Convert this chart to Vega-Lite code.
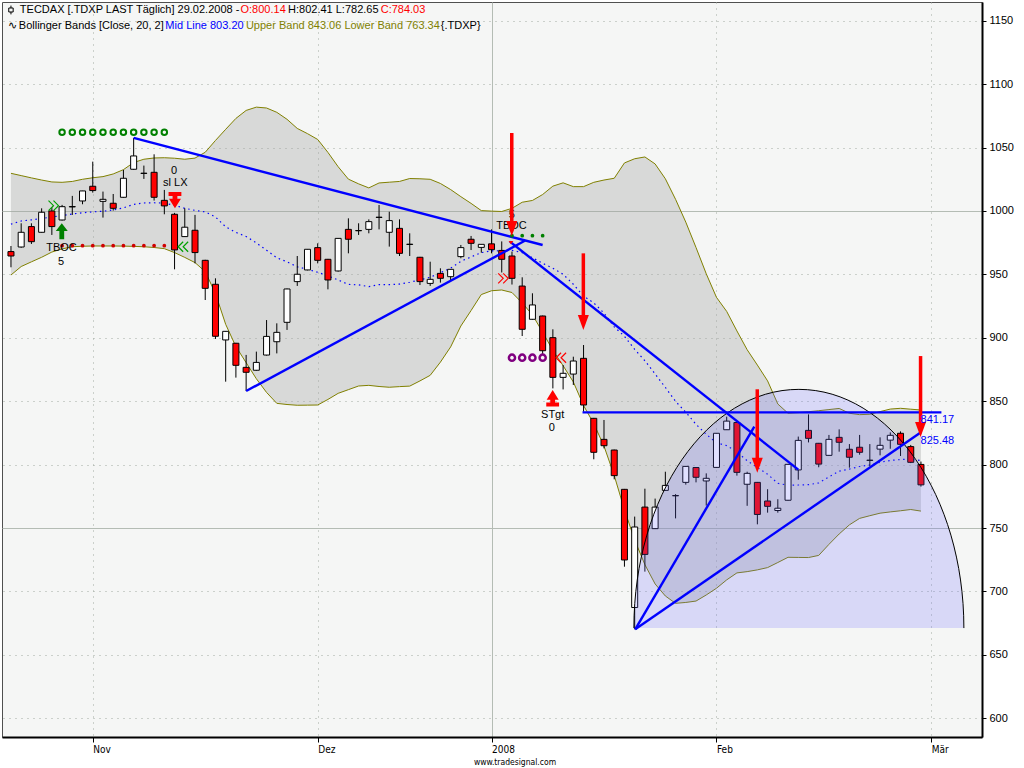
{
  "$schema": "https://vega.github.io/schema/vega-lite/v6.json",
  "width": 980,
  "height": 735,
  "autosize": {"type": "none"},
  "padding": {"left": 2, "top": 2, "right": 42, "bottom": 31},
  "background": "#ffffff",
  "config": {
    "view": {"fill": "#f5f6f5", "stroke": "#505050", "strokeWidth": 1},
    "text": {"font": "Liberation Sans", "fontSize": 11}
  },
  "datasets": {
    "px": [
      {"d":"2007-10-22","i":0,"o":968.0,"h":972.4,"l":955.6,"c":964.5},
      {"d":"2007-10-23","i":1,"o":971.6,"h":990.3,"l":971.0,"c":983.2},
      {"d":"2007-10-24","i":2,"o":987.7,"h":990.3,"l":974.0,"c":975.8},
      {"d":"2007-10-25","i":3,"o":983.2,"h":1002.1,"l":983.0,"c":999.0},
      {"d":"2007-10-26","i":4,"o":1000.0,"h":1002.9,"l":981.1,"c":987.7},
      {"d":"2007-10-29","i":5,"o":992.9,"h":1004.8,"l":992.5,"c":1003.4},
      {"d":"2007-10-30","i":6,"o":1003.2,"h":1011.9,"l":996.9,"c":1003.5},
      {"d":"2007-10-31","i":7,"o":1007.9,"h":1015.9,"l":1005.3,"c":1015.8},
      {"d":"2007-11-01","i":8,"o":1019.5,"h":1038.9,"l":1014.5,"c":1016.1},
      {"d":"2007-11-02","i":9,"o":1007.6,"h":1015.3,"l":994.8,"c":1009.2},
      {"d":"2007-11-05","i":10,"o":1006.1,"h":1013.4,"l":1000.3,"c":1002.1},
      {"d":"2007-11-06","i":11,"o":1010.8,"h":1032.4,"l":1010.5,"c":1025.8},
      {"d":"2007-11-07","i":12,"o":1032.9,"h":1057.6,"l":1032.5,"c":1043.4},
      {"d":"2007-11-08","i":13,"o":1029.6,"h":1035.8,"l":1025.3,"c":1029.8},
      {"d":"2007-11-09","i":14,"o":1030.5,"h":1044.7,"l":1008.2,"c":1010.8},
      {"d":"2007-11-12","i":15,"o":1008.4,"h":1016.6,"l":997.4,"c":1004.0},
      {"d":"2007-11-13","i":16,"o":997.4,"h":998.5,"l":954.0,"c":969.3},
      {"d":"2007-11-14","i":17,"o":979.8,"h":1002.1,"l":979.5,"c":987.2},
      {"d":"2007-11-15","i":18,"o":984.8,"h":996.9,"l":958.7,"c":967.2},
      {"d":"2007-11-16","i":19,"o":961.1,"h":961.5,"l":929.8,"c":939.0},
      {"d":"2007-11-19","i":20,"o":942.2,"h":946.9,"l":899.1,"c":901.2},
      {"d":"2007-11-20","i":21,"o":898.3,"h":905.3,"l":865.4,"c":905.1},
      {"d":"2007-11-21","i":22,"o":895.7,"h":896.0,"l":868.6,"c":878.3},
      {"d":"2007-11-22","i":23,"o":876.7,"h":886.5,"l":858.0,"c":872.8},
      {"d":"2007-11-23","i":24,"o":874.4,"h":889.1,"l":874.0,"c":880.6},
      {"d":"2007-11-26","i":25,"o":886.4,"h":914.0,"l":886.0,"c":901.1},
      {"d":"2007-11-27","i":26,"o":896.9,"h":911.4,"l":887.7,"c":904.3},
      {"d":"2007-11-28","i":27,"o":912.2,"h":938.8,"l":906.2,"c":938.5},
      {"d":"2007-11-29","i":28,"o":944.3,"h":964.5,"l":940.9,"c":950.1},
      {"d":"2007-11-30","i":29,"o":953.5,"h":970.0,"l":953.2,"c":969.8},
      {"d":"2007-12-03","i":30,"o":971.1,"h":974.5,"l":958.7,"c":961.1},
      {"d":"2007-12-04","i":31,"o":961.9,"h":962.2,"l":938.2,"c":945.6},
      {"d":"2007-12-05","i":32,"o":952.7,"h":978.6,"l":952.2,"c":978.4},
      {"d":"2007-12-06","i":33,"o":985.5,"h":994.2,"l":966.6,"c":977.7},
      {"d":"2007-12-07","i":34,"o":984.4,"h":990.3,"l":981.1,"c":984.6},
      {"d":"2007-12-10","i":35,"o":985.5,"h":993.4,"l":982.4,"c":991.6},
      {"d":"2007-12-11","i":36,"o":994.9,"h":1004.7,"l":985.5,"c":995.1},
      {"d":"2007-12-12","i":37,"o":983.2,"h":999.4,"l":971.9,"c":992.4},
      {"d":"2007-12-13","i":38,"o":986.3,"h":993.4,"l":964.5,"c":966.6},
      {"d":"2007-12-14","i":39,"o":973.6,"h":982.4,"l":964.5,"c":973.8},
      {"d":"2007-12-17","i":40,"o":963.5,"h":963.8,"l":941.6,"c":944.3},
      {"d":"2007-12-18","i":41,"o":942.9,"h":960.0,"l":940.9,"c":946.1},
      {"d":"2007-12-19","i":42,"o":950.8,"h":954.8,"l":943.5,"c":946.9},
      {"d":"2007-12-20","i":43,"o":948.2,"h":954.2,"l":945.6,"c":954.0},
      {"d":"2007-12-21","i":44,"o":964.0,"h":973.2,"l":962.7,"c":971.1},
      {"d":"2007-12-27","i":45,"o":977.7,"h":980.3,"l":969.2,"c":974.5},
      {"d":"2007-12-28","i":46,"o":971.3,"h":973.9,"l":967.1,"c":973.7},
      {"d":"2008-01-02","i":47,"o":974.1,"h":985.5,"l":966.6,"c":969.5},
      {"d":"2008-01-03","i":48,"o":968.9,"h":976.0,"l":951.5,"c":961.9},
      {"d":"2008-01-04","i":49,"o":964.5,"h":968.0,"l":942.0,"c":946.9},
      {"d":"2008-01-07","i":50,"o":940.8,"h":947.7,"l":901.4,"c":906.7},
      {"d":"2008-01-08","i":51,"o":914.6,"h":935.1,"l":914.3,"c":925.9},
      {"d":"2008-01-09","i":52,"o":917.2,"h":917.5,"l":886.4,"c":889.8},
      {"d":"2008-01-10","i":53,"o":900.1,"h":906.7,"l":860.1,"c":868.8},
      {"d":"2008-01-11","i":54,"o":868.8,"h":878.5,"l":859.3,"c":872.0},
      {"d":"2008-01-14","i":55,"o":871.4,"h":885.1,"l":862.8,"c":881.7},
      {"d":"2008-01-15","i":56,"o":883.8,"h":894.3,"l":841.7,"c":847.0},
      {"d":"2008-01-16","i":57,"o":836.5,"h":836.8,"l":804.2,"c":809.7},
      {"d":"2008-01-17","i":58,"o":819.9,"h":835.2,"l":812.8,"c":814.9},
      {"d":"2008-01-18","i":59,"o":811.5,"h":811.8,"l":788.4,"c":791.3},
      {"d":"2008-01-21","i":60,"o":780.5,"h":780.8,"l":719.5,"c":724.8},
      {"d":"2008-01-22","i":61,"o":687.3,"h":759.0,"l":670.1,"c":750.8},
      {"d":"2008-01-23","i":62,"o":766.5,"h":781.0,"l":715.6,"c":729.2},
      {"d":"2008-01-24","i":63,"o":749.5,"h":773.2,"l":749.2,"c":766.5},
      {"d":"2008-01-25","i":64,"o":779.7,"h":794.4,"l":779.5,"c":783.6},
      {"d":"2008-01-28","i":65,"o":775.4,"h":776.7,"l":757.6,"c":775.6},
      {"d":"2008-01-29","i":66,"o":786.0,"h":798.9,"l":784.2,"c":798.6},
      {"d":"2008-01-30","i":67,"o":797.7,"h":798.0,"l":786.0,"c":790.0},
      {"d":"2008-01-31","i":68,"o":787.1,"h":793.1,"l":767.7,"c":789.2},
      {"d":"2008-02-01","i":69,"o":797.8,"h":824.9,"l":797.6,"c":824.7},
      {"d":"2008-02-04","i":70,"o":827.5,"h":837.8,"l":827.3,"c":834.3},
      {"d":"2008-02-05","i":71,"o":833.2,"h":833.5,"l":791.3,"c":793.9},
      {"d":"2008-02-06","i":72,"o":784.5,"h":794.4,"l":767.5,"c":793.1},
      {"d":"2008-02-07","i":73,"o":786.0,"h":786.3,"l":752.9,"c":760.7},
      {"d":"2008-02-08","i":74,"o":771.3,"h":780.6,"l":762.1,"c":767.1},
      {"d":"2008-02-11","i":75,"o":763.8,"h":772.7,"l":762.1,"c":765.6},
      {"d":"2008-02-12","i":76,"o":771.9,"h":800.4,"l":771.7,"c":800.2},
      {"d":"2008-02-13","i":77,"o":795.8,"h":822.1,"l":788.1,"c":819.1},
      {"d":"2008-02-14","i":78,"o":827.0,"h":839.6,"l":817.5,"c":820.7},
      {"d":"2008-02-15","i":79,"o":816.8,"h":817.1,"l":797.9,"c":800.4},
      {"d":"2008-02-18","i":80,"o":807.3,"h":823.4,"l":807.1,"c":819.9},
      {"d":"2008-02-19","i":81,"o":821.5,"h":827.8,"l":810.2,"c":817.6},
      {"d":"2008-02-20","i":82,"o":812.1,"h":816.2,"l":797.6,"c":805.8},
      {"d":"2008-02-21","i":83,"o":813.7,"h":823.4,"l":807.8,"c":809.7},
      {"d":"2008-02-22","i":84,"o":803.3,"h":816.2,"l":798.6,"c":803.5},
      {"d":"2008-02-25","i":85,"o":812.2,"h":821.5,"l":807.3,"c":815.2},
      {"d":"2008-02-26","i":86,"o":819.3,"h":825.4,"l":812.5,"c":823.1},
      {"d":"2008-02-27","i":87,"o":824.7,"h":826.2,"l":806.8,"c":816.0},
      {"d":"2008-02-28","i":88,"o":814.2,"h":815.5,"l":801.2,"c":801.8},
      {"d":"2008-02-29","i":89,"o":800.14,"h":802.41,"l":782.65,"c":784.03}
    ],
    "bb": [
      {"i":0,"up":1029.7,"lo":949.5,"mid":989.6},{"i":1,"up":1027.9,"lo":956.2,"mid":992.1},
      {"i":2,"up":1026.1,"lo":959.9,"mid":993.0},{"i":3,"up":1024.4,"lo":963.5,"mid":994.0},
      {"i":4,"up":1022.9,"lo":967.6,"mid":995.3},{"i":5,"up":1022.6,"lo":970.1,"mid":996.4},
      {"i":6,"up":1023.3,"lo":971.8,"mid":997.6},{"i":7,"up":1025.0,"lo":972.2,"mid":998.6},
      {"i":8,"up":1026.2,"lo":972.4,"mid":999.3},{"i":9,"up":1027.1,"lo":972.4,"mid":999.8},
      {"i":10,"up":1029.2,"lo":972.4,"mid":1000.8},{"i":11,"up":1032.6,"lo":972.3,"mid":1002.5},
      {"i":12,"up":1038.2,"lo":972.1,"mid":1005.2},{"i":13,"up":1040.8,"lo":971.8,"mid":1006.3},
      {"i":14,"up":1041.8,"lo":971.2,"mid":1006.5},{"i":15,"up":1042.0,"lo":970.3,"mid":1006.2},
      {"i":16,"up":1041.6,"lo":967.2,"mid":1004.4},{"i":17,"up":1040.8,"lo":963.4,"mid":1002.1},
      {"i":18,"up":1041.7,"lo":959.3,"mid":1000.5},{"i":19,"up":1046.3,"lo":952.2,"mid":999.3},
      {"i":20,"up":1055.6,"lo":934.9,"mid":995.3},{"i":21,"up":1064.4,"lo":910.6,"mid":987.5},
      {"i":22,"up":1073.0,"lo":893.1,"mid":983.1},{"i":23,"up":1079.3,"lo":880.4,"mid":979.9},
      {"i":24,"up":1081.9,"lo":867.7,"mid":974.8},{"i":25,"up":1081.2,"lo":856.9,"mid":969.1},
      {"i":26,"up":1077.8,"lo":848.3,"mid":963.1},{"i":27,"up":1072.3,"lo":847.4,"mid":959.9},
      {"i":28,"up":1065.1,"lo":846.8,"mid":956.0},{"i":29,"up":1061.0,"lo":846.9,"mid":954.0},
      {"i":30,"up":1056.4,"lo":847.0,"mid":951.7},{"i":31,"up":1046.2,"lo":851.4,"mid":948.8},
      {"i":32,"up":1034.9,"lo":856.2,"mid":945.6},{"i":33,"up":1025.1,"lo":859.1,"mid":942.1},
      {"i":34,"up":1021.4,"lo":862.0,"mid":941.7},{"i":35,"up":1018.2,"lo":862.5,"mid":940.4},
      {"i":36,"up":1022.1,"lo":861.6,"mid":941.9},{"i":37,"up":1022.7,"lo":861.0,"mid":941.9},
      {"i":38,"up":1023.3,"lo":861.5,"mid":942.4},{"i":39,"up":1025.6,"lo":861.9,"mid":943.8},
      {"i":40,"up":1025.4,"lo":866.0,"mid":945.7},{"i":41,"up":1025.0,"lo":870.4,"mid":947.7},
      {"i":42,"up":1021.7,"lo":880.8,"mid":951.3},{"i":43,"up":1016.9,"lo":892.8,"mid":954.9},
      {"i":44,"up":1011.3,"lo":909.3,"mid":960.3},{"i":45,"up":1006.0,"lo":921.5,"mid":963.8},
      {"i":46,"up":1000.3,"lo":934.1,"mid":967.2},{"i":47,"up":999.9,"lo":937.1,"mid":968.5},
      {"i":48,"up":999.6,"lo":937.7,"mid":968.7},{"i":49,"up":1002.1,"lo":935.7,"mid":968.9},
      {"i":50,"up":1006.9,"lo":927.5,"mid":967.2},{"i":51,"up":1008.3,"lo":918.1,"mid":963.2},
      {"i":52,"up":1013.0,"lo":904.4,"mid":958.7},{"i":53,"up":1019.6,"lo":890.1,"mid":954.9},
      {"i":54,"up":1022.2,"lo":878.0,"mid":950.1},{"i":55,"up":1019.2,"lo":865.2,"mid":942.2},
      {"i":56,"up":1019.2,"lo":846.6,"mid":932.9},{"i":57,"up":1022.6,"lo":832.3,"mid":927.5},
      {"i":58,"up":1024.4,"lo":814.6,"mid":919.5},{"i":59,"up":1025.8,"lo":791.4,"mid":908.6},
      {"i":60,"up":1037.9,"lo":764.4,"mid":901.2},{"i":61,"up":1041.2,"lo":740.5,"mid":890.9},
      {"i":62,"up":1042.6,"lo":721.1,"mid":881.9},{"i":63,"up":1037.1,"lo":705.9,"mid":871.5},
      {"i":64,"up":1025.4,"lo":696.4,"mid":860.9},{"i":65,"up":1009.2,"lo":690.6,"mid":849.9},
      {"i":66,"up":991.2,"lo":691.3,"mid":841.3},{"i":67,"up":971.2,"lo":692.4,"mid":831.8},
      {"i":68,"up":950.5,"lo":697.2,"mid":823.9},{"i":69,"up":931.9,"lo":702.5,"mid":817.2},
      {"i":70,"up":920.8,"lo":709.1,"mid":815.0},{"i":71,"up":905.4,"lo":714.6,"mid":810.0},
      {"i":72,"up":890.6,"lo":715.6,"mid":803.1},{"i":73,"up":878.5,"lo":717.0,"mid":797.8},
      {"i":74,"up":866.0,"lo":718.8,"mid":792.4},{"i":75,"up":847.8,"lo":722.8,"mid":785.3},
      {"i":76,"up":840.5,"lo":726.9,"mid":783.7},{"i":77,"up":841.0,"lo":726.8,"mid":783.9},
      {"i":78,"up":841.7,"lo":726.7,"mid":784.2},{"i":79,"up":842.5,"lo":728.4,"mid":785.5},
      {"i":80,"up":843.4,"lo":737.1,"mid":790.3},{"i":81,"up":844.3,"lo":745.3,"mid":794.8},
      {"i":82,"up":840.5,"lo":752.5,"mid":796.5},{"i":83,"up":839.4,"lo":757.6,"mid":798.5},
      {"i":84,"up":839.7,"lo":759.7,"mid":799.7},{"i":85,"up":841.8,"lo":761.7,"mid":801.8},
      {"i":86,"up":843.8,"lo":762.7,"mid":803.3},{"i":87,"up":844.4,"lo":763.6,"mid":804.0},
      {"i":88,"up":843.7,"lo":764.6,"mid":804.2},{"i":89,"up":843.06,"lo":763.34,"mid":803.20}
    ],
    "trend": [
      {"i1":12.0,"v1":1057.6,"i2":52.0,"v2":973.2},
      {"i1":23.0,"v1":858.0,"i2":50.3,"v2":976.7},
      {"i1":48.8,"v1":975.8,"i2":77.0,"v2":796.0},
      {"i1":55.9,"v1":841.17,"i2":91.0,"v2":841.17},
      {"i1":61.05,"v1":670.1,"i2":72.7,"v2":829.9},
      {"i1":61.05,"v1":670.1,"i2":89.0,"v2":825.48}
    ],
    "sig": [
      {"i":48.98,"top":1061.5,"neck":986.6,"tip":980.3},
      {"i":55.98,"top":966.6,"neck":912.5,"tip":906.2},
      {"i":72.99,"top":859.4,"neck":799.9,"tip":793.6},
      {"i":88.96,"top":885.6,"neck":828.1,"tip":821.8}
    ],
    "marks": [
      {"kind":"ring_g","i":5,"v":1062.1},{"kind":"ring_g","i":6,"v":1062.1},{"kind":"ring_g","i":7,"v":1062.1},
      {"kind":"ring_g","i":8,"v":1062.1},{"kind":"ring_g","i":9,"v":1062.1},{"kind":"ring_g","i":10,"v":1062.1},
      {"kind":"ring_g","i":11,"v":1062.1},{"kind":"ring_g","i":12,"v":1062.1},{"kind":"ring_g","i":13,"v":1062.1},
      {"kind":"ring_g","i":14,"v":1062.1},{"kind":"ring_g","i":15,"v":1062.1},
      {"kind":"dot_r","i":5,"v":972.6},{"kind":"dot_r","i":6,"v":972.6},{"kind":"dot_r","i":7,"v":972.6},
      {"kind":"dot_r","i":8,"v":972.6},{"kind":"dot_r","i":9,"v":972.6},{"kind":"dot_r","i":10,"v":972.6},
      {"kind":"dot_r","i":11,"v":972.6},{"kind":"dot_r","i":12,"v":972.6},{"kind":"dot_r","i":13,"v":972.6},
      {"kind":"dot_r","i":14,"v":972.6},{"kind":"dot_r","i":15,"v":972.6},
      {"kind":"dot_g","i":49,"v":980.5},{"kind":"dot_g","i":50,"v":980.5},{"kind":"dot_g","i":51,"v":980.5},{"kind":"dot_g","i":52,"v":980.5},
      {"kind":"ring_p","i":49,"v":884.3},{"kind":"ring_p","i":50,"v":884.3},{"kind":"ring_p","i":51,"v":884.3},{"kind":"ring_p","i":52,"v":884.3},
      {"kind":"fwd_g","i":4.16,"v":1004.2},
      {"kind":"back_g","i":16.84,"v":971.8},
      {"kind":"fwd_r","i":48.14,"v":946.9},
      {"kind":"back_r","i":53.8,"v":884.3},
      {"kind":"buy","i":4.97,"v":990.3},
      {"kind":"exit","i":16.04,"v":1002.1},
      {"kind":"target","i":52.98,"v":858.8},
      {"kind":"sell","i":48.9,"v":973.8},
      {"kind":"icon","i":0.0,"v":1158.5}
    ],
    "notes": [
      {"i":4.94,"v":970.8,"t":"TBOC"},{"i":4.91,"v":960.0,"t":"5"},
      {"i":15.94,"v":1031.8,"t":"0"},{"i":16.07,"v":1021.8,"t":"sl LX"},
      {"i":48.98,"v":997.2,"t":"5"},{"i":48.95,"v":988.2,"t":"TBOC"},
      {"i":52.98,"v":839.1,"t":"STgt"},{"i":52.89,"v":828.6,"t":"0"}
    ],
    "tags": [
      {"i":88.96,"v":835.2,"t":"841.17"},
      {"i":88.96,"v":818.8,"t":"825.48"}
    ],
    "head": [
      {"i":0.87,"v":1158.5,"t":"TECDAX [.TDXP LAST Täglich] 29.02.2008 -","tone":"plain"},
      {"i":22.45,"v":1158.5,"t":"O:800.14","tone":"price"},
      {"i":27.10,"v":1158.5,"t":"H:802.41 L:782.65","tone":"plain"},
      {"i":36.16,"v":1158.5,"t":"C:784.03","tone":"price"},
      {"i":-0.29,"v":1145.9,"t":"∿","tone":"plain"},
      {"i":0.77,"v":1145.9,"t":"Bollinger Bands [Close, 20, 2]","tone":"plain"},
      {"i":15.10,"v":1145.9,"t":"Mid Line 803.20","tone":"mid"},
      {"i":22.98,"v":1145.9,"t":"Upper Band 843.06 Lower Band 763.34","tone":"band"},
      {"i":42.04,"v":1145.9,"t":"{.TDXP}","tone":"plain"}
    ],
    "arc": [{"i":77.06,"v":671.1}],
    "site": [{"i":49.3,"v":565.5,"t":"www.tradesignal.com"}]
  },
  "layer": [
    {
      "data": {"name": "bb"},
      "mark": {"type": "area", "color": "#a0a0a0", "opacity": 0.34, "interpolate": "linear"},
      "encoding": {
        "x": {"field": "i", "type": "quantitative", "scale": {"domain": [-0.387, 94.48], "nice": false, "zero": false},
          "axis": {"orient": "bottom", "title": null, "values": [8, 30, 47, 69, 90],
            "labelExpr": "datum.value == 8 ? 'Nov' : datum.value == 30 ? 'Dez' : datum.value == 47 ? '2008' : datum.value == 69 ? 'Feb' : 'Mär'",
            "labelAlign": "left", "labelBaseline": "top", "labelPadding": 2, "labelOffset": 0,
            "labelFont": "DejaVu Sans Condensed", "labelFontSize": 10, "labelColor": "#000000",
            "labelOverlap": false, "labelFlush": false,
            "tickSize": 5, "tickColor": "#000000", "tickWidth": 1,
            "domainColor": "#000000", "domainWidth": 2,
            "grid": true, "gridWidth": 1,
            "gridColor": {"condition": {"test": "datum.value == 47", "value": "#b4bcb4"}, "value": "#a0aaa0"},
            "gridDash": {"condition": {"test": "datum.value == 47", "value": []}, "value": [1, 5]}}},
        "y": {"field": "lo", "type": "quantitative", "scale": {"domain": [585.2, 1164.8], "nice": false, "zero": false},
          "axis": {"orient": "right", "title": null, "values": [600, 650, 700, 750, 800, 850, 900, 950, 1000, 1050, 1100, 1150],
            "format": "d", "labelAlign": "left", "labelBaseline": "middle", "labelPadding": 3,
            "labelFont": "Liberation Sans", "labelFontSize": 11, "labelColor": "#000000",
            "labelOverlap": false, "labelFlush": false,
            "tickSize": 4, "tickColor": "#000000", "tickWidth": 1,
            "domainColor": "#000000", "domainWidth": 2,
            "grid": true, "gridWidth": 1,
            "gridColor": {"condition": {"test": "datum.value == 1000 || datum.value == 750", "value": "#b4bcb4"}, "value": "#a0aaa0"},
            "gridDash": {"condition": {"test": "datum.value == 1000 || datum.value == 750", "value": []}, "value": [1, 5]}}},
        "y2": {"field": "up"}
      }
    },
    {
      "data": {"name": "bb"},
      "mark": {"type": "line", "color": "#808000", "strokeWidth": 1},
      "encoding": {
        "x": {"field": "i", "type": "quantitative"},
        "y": {"field": "up", "type": "quantitative"}
      }
    },
    {
      "data": {"name": "bb"},
      "mark": {"type": "line", "color": "#808000", "strokeWidth": 1},
      "encoding": {
        "x": {"field": "i", "type": "quantitative"},
        "y": {"field": "lo", "type": "quantitative"}
      }
    },
    {
      "data": {"name": "bb"},
      "mark": {"type": "line", "color": "#0000ff", "strokeWidth": 1.2, "strokeDash": [1.5, 3.5]},
      "encoding": {
        "x": {"field": "i", "type": "quantitative"},
        "y": {"field": "mid", "type": "quantitative"}
      }
    },
    {
      "data": {"name": "px"},
      "mark": {"type": "rule", "color": "#000000", "strokeWidth": 1},
      "encoding": {
        "x": {"field": "i", "type": "quantitative"},
        "y": {"field": "l", "type": "quantitative"},
        "y2": {"field": "h"}
      }
    },
    {
      "data": {"name": "px"},
      "mark": {"type": "bar", "width": 6, "stroke": "#000000", "strokeWidth": 1, "opacity": 1},
      "encoding": {
        "x": {"field": "i", "type": "quantitative"},
        "y": {"field": "o", "type": "quantitative"},
        "y2": {"field": "c"},
        "fill": {"condition": {"test": "datum.c < datum.o", "value": "#ff0000"}, "value": "#ffffff"}
      }
    },
    {
      "data": {"name": "arc"},
      "mark": {"type": "point", "shape": "M -1 0 A 1 1.4467 0 0 1 1 0", "size": 108900, "filled": true,
        "fill": "#6464ff", "fillOpacity": 0.2, "stroke": "#000000", "strokeWidth": 1, "strokeOpacity": 1, "opacity": 1},
      "encoding": {
        "x": {"field": "i", "type": "quantitative"},
        "y": {"field": "v", "type": "quantitative"}
      }
    },
    {
      "data": {"name": "trend"},
      "mark": {"type": "rule", "color": "#0000ff", "strokeWidth": 2.4},
      "encoding": {
        "x": {"field": "i1", "type": "quantitative"},
        "x2": {"field": "i2"},
        "y": {"field": "v1", "type": "quantitative"},
        "y2": {"field": "v2"}
      }
    },
    {
      "data": {"name": "marks"},
      "transform": [{"filter": "datum.kind == 'ring_g'"}],
      "mark": {"type": "point", "shape": "circle", "size": 30, "filled": false, "stroke": "#008000", "strokeWidth": 2, "opacity": 1},
      "encoding": {
        "x": {"field": "i", "type": "quantitative"},
        "y": {"field": "v", "type": "quantitative"}
      }
    },
    {
      "data": {"name": "marks"},
      "transform": [{"filter": "datum.kind == 'ring_p'"}],
      "mark": {"type": "point", "shape": "circle", "size": 38, "filled": false, "stroke": "#800080", "strokeWidth": 2.5, "opacity": 1},
      "encoding": {
        "x": {"field": "i", "type": "quantitative"},
        "y": {"field": "v", "type": "quantitative"}
      }
    },
    {
      "data": {"name": "marks"},
      "transform": [{"filter": "datum.kind == 'dot_r'"}],
      "mark": {"type": "point", "shape": "circle", "size": 14, "filled": true, "fill": "#d00000", "opacity": 1},
      "encoding": {
        "x": {"field": "i", "type": "quantitative"},
        "y": {"field": "v", "type": "quantitative"}
      }
    },
    {
      "data": {"name": "marks"},
      "transform": [{"filter": "datum.kind == 'dot_g'"}],
      "mark": {"type": "point", "shape": "circle", "size": 14, "filled": true, "fill": "#008000", "opacity": 1},
      "encoding": {
        "x": {"field": "i", "type": "quantitative"},
        "y": {"field": "v", "type": "quantitative"}
      }
    },
    {
      "data": {"name": "marks"},
      "transform": [{"filter": "datum.kind == 'fwd_g'"}],
      "mark": {"type": "point", "shape": "M -1 -1 L 0 0 L -1 1 M 0 -1 L 1 0 L 0 1", "size": 100, "filled": false, "stroke": "#00a000", "strokeWidth": 1.2, "opacity": 1},
      "encoding": {
        "x": {"field": "i", "type": "quantitative"},
        "y": {"field": "v", "type": "quantitative"}
      }
    },
    {
      "data": {"name": "marks"},
      "transform": [{"filter": "datum.kind == 'back_g'"}],
      "mark": {"type": "point", "shape": "M 1 -1 L 0 0 L 1 1 M 0 -1 L -1 0 L 0 1", "size": 100, "filled": false, "stroke": "#00a000", "strokeWidth": 1.2, "opacity": 1},
      "encoding": {
        "x": {"field": "i", "type": "quantitative"},
        "y": {"field": "v", "type": "quantitative"}
      }
    },
    {
      "data": {"name": "marks"},
      "transform": [{"filter": "datum.kind == 'fwd_r'"}],
      "mark": {"type": "point", "shape": "M -1 -1 L 0 0 L -1 1 M 0 -1 L 1 0 L 0 1", "size": 100, "filled": false, "stroke": "#ff0000", "strokeWidth": 1.2, "opacity": 1},
      "encoding": {
        "x": {"field": "i", "type": "quantitative"},
        "y": {"field": "v", "type": "quantitative"}
      }
    },
    {
      "data": {"name": "marks"},
      "transform": [{"filter": "datum.kind == 'back_r'"}],
      "mark": {"type": "point", "shape": "M 1 -1 L 0 0 L 1 1 M 0 -1 L -1 0 L 0 1", "size": 100, "filled": false, "stroke": "#ff0000", "strokeWidth": 1.2, "opacity": 1},
      "encoding": {
        "x": {"field": "i", "type": "quantitative"},
        "y": {"field": "v", "type": "quantitative"}
      }
    },
    {
      "data": {"name": "marks"},
      "transform": [{"filter": "datum.kind == 'icon'"}],
      "mark": {"type": "point", "shape": "M 0 -1.1 L 0 -0.5 M -0.55 -0.5 L 0.55 -0.5 L 0.55 0.5 L -0.55 0.5 Z M 0 0.5 L 0 1.1", "size": 64, "filled": false, "stroke": "#000000", "strokeWidth": 1, "opacity": 1},
      "encoding": {
        "x": {"field": "i", "type": "quantitative"},
        "y": {"field": "v", "type": "quantitative"}
      }
    },
    {
      "data": {"name": "notes"},
      "mark": {"type": "text", "align": "center", "baseline": "middle", "color": "#000000", "fontSize": 11},
      "encoding": {
        "x": {"field": "i", "type": "quantitative"},
        "y": {"field": "v", "type": "quantitative"},
        "text": {"field": "t"}
      }
    },
    {
      "data": {"name": "marks"},
      "transform": [{"filter": "datum.kind == 'buy'"}],
      "mark": {"type": "point", "shape": "M 0 0 L 0.75 0.95 L 0.3 0.95 L 0.3 2 L -0.3 2 L -0.3 0.95 L -0.75 0.95 Z", "size": 256, "filled": true, "fill": "#008000", "opacity": 1},
      "encoding": {
        "x": {"field": "i", "type": "quantitative"},
        "y": {"field": "v", "type": "quantitative"}
      }
    },
    {
      "data": {"name": "marks"},
      "transform": [{"filter": "datum.kind == 'exit'"}],
      "mark": {"type": "point", "shape": "M 0 0 L -0.75 -1.2 L -0.3 -1.2 L -0.3 -1.55 L -0.8 -1.55 L -0.8 -2.05 L 0.8 -2.05 L 0.8 -1.55 L 0.3 -1.55 L 0.3 -1.2 L 0.75 -1.2 Z", "size": 256, "filled": true, "fill": "#ff0000", "opacity": 1},
      "encoding": {
        "x": {"field": "i", "type": "quantitative"},
        "y": {"field": "v", "type": "quantitative"}
      }
    },
    {
      "data": {"name": "marks"},
      "transform": [{"filter": "datum.kind == 'target'"}],
      "mark": {"type": "point", "shape": "M 0 0 L 0.75 1.2 L 0.3 1.2 L 0.3 1.55 L 0.8 1.55 L 0.8 2.05 L -0.8 2.05 L -0.8 1.55 L -0.3 1.55 L -0.3 1.2 L -0.75 1.2 Z", "size": 256, "filled": true, "fill": "#ff0000", "opacity": 1},
      "encoding": {
        "x": {"field": "i", "type": "quantitative"},
        "y": {"field": "v", "type": "quantitative"}
      }
    },
    {
      "data": {"name": "marks"},
      "transform": [{"filter": "datum.kind == 'sell'"}],
      "mark": {"type": "point", "shape": "M -0.6 -0.8 L 0.6 -0.8 L 0 0 Z", "size": 64, "filled": true, "fill": "#ff0000", "opacity": 1},
      "encoding": {
        "x": {"field": "i", "type": "quantitative"},
        "y": {"field": "v", "type": "quantitative"}
      }
    },
    {
      "data": {"name": "sig"},
      "mark": {"type": "rule", "color": "#ff0000", "strokeWidth": 3.5, "strokeCap": "butt"},
      "encoding": {
        "x": {"field": "i", "type": "quantitative"},
        "y": {"field": "top", "type": "quantitative"},
        "y2": {"field": "neck"}
      }
    },
    {
      "data": {"name": "sig"},
      "mark": {"type": "point", "shape": "M -0.55 -1.5 L 0.55 -1.5 L 0 0 Z", "size": 400, "filled": true, "fill": "#ff0000", "opacity": 1},
      "encoding": {
        "x": {"field": "i", "type": "quantitative"},
        "y": {"field": "tip", "type": "quantitative"}
      }
    },
    {
      "data": {"name": "tags"},
      "mark": {"type": "text", "align": "left", "baseline": "middle", "color": "#0000ff", "fontSize": 11},
      "encoding": {
        "x": {"field": "i", "type": "quantitative"},
        "y": {"field": "v", "type": "quantitative"},
        "text": {"field": "t"}
      }
    },
    {
      "data": {"name": "head"},
      "mark": {"type": "text", "align": "left", "baseline": "middle", "fontSize": 11},
      "encoding": {
        "x": {"field": "i", "type": "quantitative"},
        "y": {"field": "v", "type": "quantitative"},
        "text": {"field": "t"},
        "color": {"field": "tone", "type": "nominal", "legend": null,
          "scale": {"domain": ["plain", "price", "mid", "band"], "range": ["#000000", "#ff0000", "#0000ff", "#808000"]}}
      }
    },
    {
      "data": {"name": "site"},
      "mark": {"type": "text", "align": "center", "baseline": "middle", "color": "#000000", "font": "DejaVu Sans Condensed", "fontSize": 8.5},
      "encoding": {
        "x": {"field": "i", "type": "quantitative"},
        "y": {"field": "v", "type": "quantitative"},
        "text": {"field": "t"}
      }
    }
  ]
}
